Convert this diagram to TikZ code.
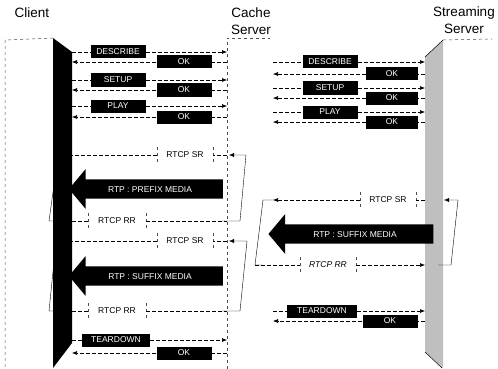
\documentclass[tikz,border=0pt]{standalone}
\usepackage{fontspec}
\setmainfont{Liberation Sans}
\usetikzlibrary{arrows.meta, shapes.arrows}

\begin{document}
\begin{tikzpicture}[x=1pt, y=-1pt,
    title/.style={font=\fontsize{13.5}{17}\selectfont, align=center},
    outline/.style={dash pattern=on 3pt off 3pt, line width=0.5pt, black!70},
    msg/.style={dash pattern=on 4pt off 2pt, line width=0.6pt},
    tip/.style={-{Latex[length=5pt,width=4pt]}},
    req/.style={fill=black, text=white, font=\fontsize{8.5}{9}\selectfont, minimum width=55pt, minimum height=13pt, inner sep=0pt},
    rtcp/.style={fill=white, font=\fontsize{8.5}{9}\selectfont, minimum width=56pt, minimum height=15pt, inner sep=0pt,
      append after command={(\tikzlastnode.north west) edge[outline] (\tikzlastnode.south west)
        (\tikzlastnode.north east) edge[outline] (\tikzlastnode.south east)}},
    media/.style={single arrow, fill=black, text=white, shape border rotate=180, font=\fontsize{8.5}{9}\selectfont,
      text height=6pt, text depth=0pt, inner ysep=3.5pt, inner xsep=0pt, minimum width=40pt, single arrow tip angle=100}]
  \useasboundingbox (0,0) rectangle (498,369);

  % lifelines
  \coordinate (client) at (72,0);
  \coordinate (cacheL) at (227,0);
  \coordinate (cacheR) at (273,0);
  \coordinate (stream) at (425,0);

  \node[title] (tclient) at (32,13) {Client};
  \node[title] (tcache) at (251,21) {Cache\\Server};
  \node[title] (tstream) at (464,20) {Streaming\\Server};

  \fill[black] (53,38) -- (72,52) -- (72,343) -- (53,368) -- cycle;
  \draw[outline] (53,38) -- (5,40) -- (5,369);
  \draw[outline] (227,369) -- (227,38) -- (270,38);
  \fill[black!25] (425,57) -- (443,40) -- (443,368) -- (425,352) -- cycle;
  \draw[line width=0.5pt] (425,57) -- (443,40);
  \draw[line width=0.5pt] (425,352) -- (442,368);
  \draw[outline] (443,40) -- (492,39);

  % client <-> cache setup
  \foreach \lbl/\y/\k in {DESCRIBE/52/1, SETUP/80/2, PLAY/106/3} {
    \node[req] (creq\k) at (118,\y) {\lbl};
    \draw[msg] (creq\k.west -| client) -- (creq\k.west);
    \draw[msg, tip] (creq\k.east) -- (creq\k.east -| cacheL);
  }
  \foreach \y/\k in {62/1, 90/2, 117/3} {
    \node[req] (cok\k) at (184,\y) {OK};
    \draw[msg] (cok\k.east -| cacheL) -- (cok\k.east);
    \draw[msg, tip] (cok\k.west) -- (cok\k.west -| client);
  }

  % cache <-> streaming setup
  \foreach \lbl/\y/\k in {DESCRIBE/62/1, SETUP/88/2, PLAY/112/3} {
    \node[req] (sreq\k) at (330,\y) {\lbl};
    \draw[msg] (sreq\k.west -| cacheR) -- (sreq\k.west);
    \draw[msg, tip] (sreq\k.east) -- (sreq\k.east -| stream);
  }
  \foreach \y/\k in {74/1, 98/2, 122/3} {
    \node[req, minimum width=52pt] (sok\k) at (392,\y) {OK};
    \draw[msg] (sok\k.east -| stream) -- (sok\k.east);
    \draw[msg, tip] (sok\k.west) -- (sok\k.west -| cacheR);
  }

  % prefix from the cache
  \node[rtcp] (sr1) at (185,155) {RTCP SR};
  \draw[msg] (sr1.east -| cacheL) -- (sr1.east);
  \draw[msg] (sr1.west) -- (sr1.west -| client);
  \node[media, minimum height=154pt] (prefix) at (150,189) {RTP : PREFIX MEDIA};
  \node[rtcp, minimum width=58pt] (rr1) at (117,221) {RTCP RR};
  \draw[msg] (rr1.west -| client) -- (rr1.west);
  \draw[msg] (rr1.east) -- (rr1.east -| cacheL);
  \coordinate (l1a) at (222,221);
  \coordinate (l1b) at (240,221);
  \coordinate (l1c) at (246,155);
  \coordinate (l1d) at (229,155);
  \draw[tip] (l1a) -- (l1b) -- (l1c) -- (l1d);
  \coordinate (c1a) at (54,185);
  \coordinate (c1b) at (49,221);
  \coordinate (c1c) at (55,221);
  \draw (c1a) -- (c1b) -- (c1c);

  % suffix from the cache
  \node[rtcp] (sr2) at (185,241) {RTCP SR};
  \draw[msg] (sr2.east -| cacheL) -- (sr2.east);
  \draw[msg] (sr2.west) -- (sr2.west -| client);
  \node[media, minimum height=154pt] (suffix1) at (150,276) {RTP : SUFFIX MEDIA};
  \node[rtcp, minimum width=58pt] (rr2) at (117,311) {RTCP RR};
  \draw[msg] (rr2.west -| client) -- (rr2.west);
  \draw[msg] (rr2.east) -- (rr2.east -| cacheL);
  \coordinate (l2a) at (222,311);
  \coordinate (l2b) at (240,311);
  \coordinate (l2c) at (247,241);
  \coordinate (l2d) at (229,241);
  \draw[tip] (l2a) -- (l2b) -- (l2c) -- (l2d);
  \coordinate (c2a) at (54,262);
  \coordinate (c2b) at (49,311);
  \coordinate (c2c) at (55,311);
  \draw (c2a) -- (c2b) -- (c2c);

  % suffix from the streaming server
  \node[rtcp] (sr3) at (388,200) {RTCP SR};
  \draw[msg] (sr3.east -| stream) -- (sr3.east);
  \draw[msg, tip] (sr3.west) -- (sr3.west -| cacheR);
  \node[media, minimum height=165pt] (suffix2) at (355,234) {RTP : SUFFIX MEDIA};
  \node[rtcp, font=\fontsize{8.5}{9}\selectfont\itshape] (rr3) at (328,265) {RTCP RR};
  \coordinate (l3a) at (262,265);
  \coordinate (l3b) at (255,265);
  \coordinate (l3c) at (263,200);
  \coordinate (l3d) at (273,200);
  \draw (l3a) -- (l3b) -- (l3c) -- (l3d);
  \draw[msg] (l3b) -- (rr3.west);
  \draw[msg, tip] (rr3.east) -- (rr3.east -| stream);
  \coordinate (l4a) at (438,265);
  \coordinate (l4b) at (451,265);
  \coordinate (l4c) at (458,200);
  \coordinate (l4d) at (444,200);
  \draw[tip] (l4a) -- (l4b) -- (l4c) -- (l4d);

  % teardown
  \node[req, minimum width=70pt] (tdR) at (322,311) {TEARDOWN};
  \draw[msg] (tdR.west -| cacheR) -- (tdR.west);
  \draw[msg, tip] (tdR.east) -- (tdR.east -| stream);
  \node[req] (okR) at (390,321) {OK};
  \draw[msg] (okR.east -| stream) -- (okR.east);
  \draw[msg, tip] (okR.west) -- (okR.west -| cacheR);
  \node[req, minimum width=68pt] (tdL) at (116,340) {TEARDOWN};
  \draw[msg] (tdL.west -| client) -- (tdL.west);
  \draw[msg, tip] (tdL.east) -- (tdL.east -| cacheL);
  \node[req] (okL) at (184,353) {OK};
  \draw[msg] (okL.east -| cacheL) -- (okL.east);
  \draw[msg, tip] (okL.west) -- (okL.west -| client);
\end{tikzpicture}
\end{document}
